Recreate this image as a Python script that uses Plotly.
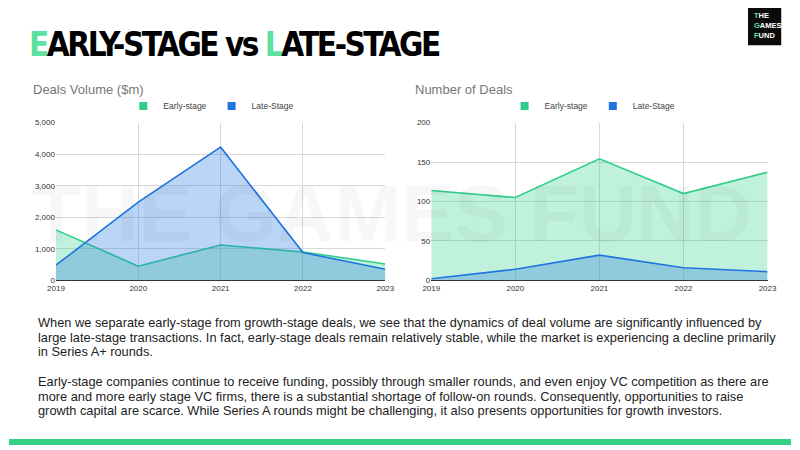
import plotly.graph_objects as go

years = ["2019", "2020", "2021", "2022", "2023"]
vol_early = [1600, 450, 1120, 900, 520]
vol_late = [480, 2480, 4220, 880, 350]
cnt_early = [114, 105, 154, 110, 137]
cnt_late = [2, 14, 32, 16, 11]
series_names = ["Early-stage", "Late-Stage"]

GREEN = "#2fcf8a"
BLUE = "#1f74e0"
GREEN_FILL = "rgba(47,207,138,0.30)"
BLUE_FILL = "rgba(31,116,224,0.30)"
FONT = "Liberation Sans, Arial, sans-serif"

W, H = 800, 450
def X(px):
    return px / W
def Y(py):
    return 1 - py / H

fig = go.Figure()

def add_pair(xa, ya, early, late, legend):
    for vals, col, fillc, nm in [(early, GREEN, GREEN_FILL, series_names[0]),
                                 (late, BLUE, BLUE_FILL, series_names[1])]:
        fig.add_trace(go.Scatter(x=years, y=vals, name=nm, mode="lines",
                                 line=dict(color=col, width=1.6), fill="tozeroy",
                                 fillcolor=fillc, xaxis=xa, yaxis=ya, showlegend=False))
        fig.add_trace(go.Scatter(x=[None], y=[None], name=nm, mode="markers",
                                 marker=dict(symbol="square", size=8, color=col),
                                 xaxis=xa, yaxis=ya, legend=legend, showlegend=True))

add_pair("x", "y", vol_early, vol_late, "legend")
add_pair("x2", "y2", cnt_early, cnt_late, "legend2")

axis_common = dict(showgrid=True, gridcolor="#d9d9d9", gridwidth=1,
                   tickfont=dict(family=FONT, size=8, color="#333"),
                   zeroline=False, ticks="", fixedrange=True)

fig.update_layout(
    width=W, height=H, margin=dict(l=0, r=0, t=0, b=0),
    paper_bgcolor="white", plot_bgcolor="rgba(0,0,0,0)",
    xaxis=dict(domain=[X(48), X(385)], anchor="y", type="category", range=[0, 4],
               showline=True, linecolor="#333", linewidth=1, **axis_common),
    yaxis=dict(domain=[Y(282), Y(121)], anchor="x", range=[0, 5000], dtick=1000, tickformat=",",
               **axis_common),
    xaxis2=dict(domain=[X(432), X(776)], anchor="y2", type="category", range=[0, 4],
                showline=True, linecolor="#333", linewidth=1, **axis_common),
    yaxis2=dict(domain=[Y(282), Y(121)], anchor="x2", range=[0, 200], dtick=50, **axis_common),
    legend=dict(orientation="h", x=X(207), xanchor="center", y=Y(104), yanchor="middle",
                font=dict(family=FONT, size=8.5, color="#444"), bgcolor="rgba(0,0,0,0)"),
    legend2=dict(orientation="h", x=X(597), xanchor="center", y=Y(104), yanchor="middle",
                 font=dict(family=FONT, size=8.5, color="#444"), bgcolor="rgba(0,0,0,0)"),
)

# watermark
fig.add_annotation(text="<b>THE GAMES FUND</b>", x=X(392), y=Y(214), xref="paper", yref="paper",
                   showarrow=False, font=dict(family=FONT, size=80, color="rgba(0,0,0,0.03)"))

# title
fig.add_annotation(text="<span style='letter-spacing:-2.5px'><b><span style='color:#5ee0a3'>E</span>ARLY-STAGE vs <span style='color:#5ee0a3'>L</span>ATE-STAGE</b></span>",
                   x=X(18), y=Y(41), xref="paper", yref="paper", xanchor="left", yanchor="middle",
                   showarrow=False,
                   font=dict(family="DejaVu Sans Condensed, Liberation Sans", size=33, color="#000"))

# chart titles
fig.add_annotation(text="Deals Volume ($m)", x=X(23), y=Y(87), xref="paper", yref="paper",
                   xanchor="left", yanchor="middle", showarrow=False,
                   font=dict(family=FONT, size=13, color="#777"))
fig.add_annotation(text="Number of Deals", x=X(413), y=Y(87), xref="paper", yref="paper",
                   xanchor="left", yanchor="middle", showarrow=False,
                   font=dict(family=FONT, size=13, color="#777"))

lines = [
    ("When we separate early-stage from growth-stage deals, we see that the dynamics of deal volume are significantly influenced by", 325),
    ("large late-stage transactions. In fact, early-stage deals remain relatively stable, while the market is experiencing a decline primarily", 340),
    ("in Series A+ rounds.", 355),
    ("Early-stage companies continue to receive funding, possibly through smaller rounds, and even enjoy VC competition as there are", 385),
    ("more and more early stage VC firms, there is a substantial shortage of follow-on rounds. Consequently, opportunities to raise", 400),
    ("growth capital are scarce. While Series A rounds might be challenging, it also presents opportunities for growth investors.", 415),
]
for txt, yc in lines:
    fig.add_annotation(text=txt, x=X(28), y=Y(yc), xref="paper", yref="paper",
                       xanchor="left", yanchor="middle", align="left", showarrow=False,
                       font=dict(family=FONT, size=12.8, color="#222"))

# bottom green bar
fig.add_shape(type="rect", xref="paper", yref="paper", x0=0, x1=1, y0=0, y1=Y(444),
              fillcolor="#34d186", line=dict(width=0), layer="below")

# logo
fig.add_shape(type="rect", xref="paper", yref="paper", x0=X(756), x1=X(790),
              y0=Y(42), y1=Y(4), fillcolor="#0b0b0b", line=dict(width=0))
fig.add_annotation(text="<b>T</b><b style='color:#fff'>HE</b><br><b>G</b><b style='color:#fff'>AMES</b><br><b>F</b><b style='color:#fff'>UND</b>",
                   x=X(760), y=Y(22), xref="paper", yref="paper", xanchor="left", yanchor="middle",
                   align="left", showarrow=False,
                   font=dict(family=FONT, size=7.5, color="#5ee0a3"))

fig.write_html("out.html")
